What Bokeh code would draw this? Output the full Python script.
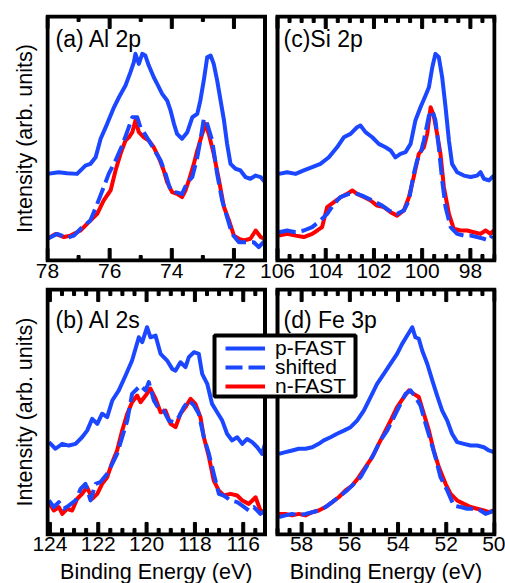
from bokeh.plotting import figure
from bokeh.models import (Range1d, LinearAxis, FixedTicker, Label, Legend, BoxAnnotation,
                          LegendItem, CustomJSTickFormatter, ColumnDataSource)
from bokeh.layouts import column
from bokeh.embed import file_html
from bokeh.resources import INLINE

# ---------------- data (binding energy in eV, intensity in arb. units) -------------
# (a) Al 2p
al2p_pfast_be = [78.00, 77.64, 77.37, 77.05, 76.78, 76.62, 76.45, 76.29, 76.08, 75.86, 75.70, 75.49,
                 75.33, 75.22, 75.17, 75.06, 74.95, 74.85, 74.74, 74.58, 74.47, 74.31, 74.15, 74.04,
                 73.93, 73.83, 73.67, 73.50, 73.34, 73.18, 73.08, 72.97, 72.86, 72.75, 72.65, 72.54,
                 72.43, 72.32, 72.22, 72.11, 71.95, 71.79, 71.63, 71.47, 71.30, 71.14, 71.00]
al2p_pfast_int = [35.5, 36.2, 35.8, 35.5, 38.9, 39.6, 42.3, 49.9, 56.0, 62.8, 66.9, 71.7,
                  77.2, 81.3, 84.7, 80.6, 84.7, 84.0, 79.9, 75.1, 72.4, 68.3, 65.6, 61.5,
                  56.0, 51.9, 49.9, 52.6, 58.7, 60.1, 65.6, 73.8, 83.3, 84.0, 80.6, 73.8,
                  65.6, 57.4, 47.8, 39.6, 37.6, 36.9, 34.2, 33.5, 34.8, 34.2, 32.1]
al2p_nfast_be = [78.00, 77.74, 77.47, 77.26, 76.94, 76.67, 76.40, 76.19, 75.97, 75.81, 75.65, 75.49,
                 75.38, 75.27, 75.17, 75.06, 74.90, 74.74, 74.58, 74.42, 74.26, 74.15, 73.99, 73.83,
                 73.67, 73.56, 73.45, 73.29, 73.18, 73.02, 72.91, 72.81, 72.65, 72.48, 72.32, 72.16,
                 72.00, 71.84, 71.68, 71.47, 71.30, 71.14, 71.00]
al2p_nfast_int = [8.9, 10.9, 9.6, 10.2, 12.3, 15.7, 19.1, 24.6, 28.7, 36.9, 43.7, 49.2,
                  50.5, 52.6, 57.4, 52.6, 50.5, 49.2, 46.4, 42.3, 36.9, 32.1, 28.0, 27.3,
                  26.0, 28.7, 32.8, 39.6, 45.1, 51.9, 56.0, 51.9, 43.7, 32.8, 21.9, 16.4,
                  10.2, 8.9, 8.2, 8.9, 12.3, 9.6, 8.9]
al2p_shift_be = [78.00, 77.69, 77.37, 77.15, 76.88, 76.62, 76.40, 76.19, 76.03, 75.81, 75.60, 75.44,
                 75.27, 75.11, 75.01, 74.90, 74.74, 74.52, 74.36, 74.20, 74.04, 73.88, 73.67, 73.50,
                 73.34, 73.18, 73.08, 72.97, 72.86, 72.70, 72.54, 72.38, 72.22, 72.06, 71.84, 71.57,
                 71.36, 71.20, 71.00]
al2p_shift_int = [8.9, 10.9, 9.3, 10.2, 13.7, 16.4, 23.2, 30.1, 35.5, 41.0, 47.1, 52.6,
                  58.7, 58.7, 54.6, 52.6, 49.2, 44.4, 41.0, 35.5, 28.7, 28.0, 27.3, 32.1,
                  34.2, 42.3, 49.2, 58.1, 56.0, 49.2, 35.5, 24.6, 17.8, 10.9, 7.5, 7.5,
                  7.5, 5.5, 8.2]

# (c) Si 2p
si2p_pfast_be = [105.94, 105.60, 105.25, 104.91, 104.56, 104.22, 103.87, 103.53, 103.25, 102.97,
                 102.70, 102.56, 102.35, 102.07, 101.80, 101.52, 101.31, 101.11, 100.90, 100.69,
                 100.48, 100.28, 100.07, 99.86, 99.72, 99.58, 99.45, 99.31, 99.17, 99.03,
                 98.89, 98.76, 98.55, 98.27, 97.99, 97.72, 97.58, 97.44, 97.23, 97.03]
si2p_pfast_int = [35.5, 36.2, 35.5, 36.9, 38.3, 39.6, 42.3, 46.4, 50.5, 51.9,
                  54.6, 55.3, 52.6, 50.5, 47.8, 46.4, 45.1, 42.3, 43.7, 44.4,
                  47.8, 57.4, 62.8, 67.6, 71.0, 79.2, 84.7, 83.3, 75.1, 62.8,
                  49.2, 39.6, 36.2, 34.8, 34.2, 34.8, 36.2, 33.5, 32.8, 34.8]
si2p_nfast_be = [105.94, 105.60, 105.25, 104.91, 104.56, 104.35, 104.15, 103.94, 103.66, 103.39,
                 103.11, 102.90, 102.70, 102.42, 102.14, 101.87, 101.59, 101.31, 101.04, 100.76,
                 100.55, 100.35, 100.14, 99.93, 99.79, 99.65, 99.52, 99.38, 99.24, 99.10,
                 98.89, 98.69, 98.41, 98.13, 97.86, 97.58, 97.37, 97.17, 97.03]
si2p_nfast_int = [10.2, 10.9, 10.2, 9.6, 10.9, 12.3, 13.7, 21.9, 23.9, 25.9,
                  27.3, 28.7, 27.3, 26.0, 24.6, 22.5, 21.9, 19.8, 18.4, 20.5,
                  25.9, 34.2, 43.7, 46.4, 51.9, 62.8, 59.4, 51.9, 43.7, 30.1,
                  19.1, 13.0, 12.3, 12.3, 11.6, 10.9, 12.3, 10.9, 12.3]
si2p_shift_be = [105.94, 105.60, 105.25, 104.91, 104.56, 104.22, 103.94, 103.66, 103.39, 103.04,
                 102.76, 102.49, 102.21, 101.94, 101.66, 101.38, 101.04, 100.76, 100.55, 100.35,
                 100.21, 100.07, 99.93, 99.72, 99.58, 99.45, 99.31, 99.17, 99.03, 98.82,
                 98.55, 98.27, 97.99, 97.72, 97.44, 97.23, 97.10]
si2p_shift_int = [11.6, 12.3, 11.6, 12.3, 13.7, 16.4, 19.1, 23.2, 26.0, 27.3,
                  27.6, 26.6, 25.3, 23.9, 22.5, 20.5, 19.1, 20.5, 24.6, 35.5,
                  41.0, 43.7, 49.2, 59.4, 61.5, 57.4, 46.4, 32.8, 21.9, 13.7,
                  10.9, 10.2, 10.2, 9.6, 8.9, 8.2, 10.2]

# (b) Al 2s
al2s_pfast_be = [124.04, 123.77, 123.49, 123.22, 122.94, 122.67, 122.46, 122.25, 122.04, 121.84,
                 121.63, 121.42, 121.15, 120.87, 120.60, 120.32, 120.18, 119.98, 119.84, 119.63,
                 119.42, 119.15, 118.94, 118.80, 118.60, 118.39, 118.25, 118.04, 117.84, 117.70,
                 117.49, 117.29, 117.08, 116.87, 116.67, 116.46, 116.25, 116.04, 115.84, 115.63,
                 115.42, 115.22, 115.10]
al2s_pfast_int = [37.7, 35.0, 37.0, 36.3, 37.0, 39.7, 42.4, 47.2, 45.2, 49.3,
                  47.9, 54.7, 58.8, 64.9, 71.0, 80.5, 78.5, 84.6, 80.5, 81.2,
                  73.7, 71.0, 67.6, 66.9, 70.3, 68.3, 72.4, 74.4, 73.7, 65.6,
                  61.5, 53.3, 49.9, 46.5, 41.1, 38.4, 39.7, 37.0, 39.0, 37.7,
                  35.6, 32.9, 37.0]
al2s_nfast_be = [124.04, 123.84, 123.63, 123.49, 123.29, 123.08, 122.87, 122.67, 122.46, 122.25,
                 122.04, 121.84, 121.63, 121.42, 121.22, 121.01, 120.80, 120.60, 120.39, 120.25,
                 120.04, 119.84, 119.63, 119.42, 119.22, 119.01, 118.80, 118.60, 118.39, 118.18,
                 117.98, 117.77, 117.63, 117.42, 117.22, 117.01, 116.80, 116.53, 116.25, 116.04,
                 115.77, 115.49, 115.29, 115.10]
al2s_nfast_int = [13.2, 9.8, 11.2, 8.4, 10.5, 9.8, 14.6, 16.6, 19.3, 14.6,
                  16.6, 20.7, 23.4, 29.5, 34.3, 42.4, 49.3, 54.0, 56.7, 54.0,
                  56.7, 59.5, 55.4, 49.9, 50.6, 45.2, 43.8, 49.3, 52.0, 55.4,
                  53.3, 47.9, 39.7, 31.6, 22.0, 17.9, 15.9, 16.6, 15.9, 13.9,
                  12.5, 15.2, 9.8, 9.1]
al2s_shift_be = [124.04, 123.84, 123.63, 123.42, 123.22, 122.94, 122.73, 122.53, 122.32, 122.11,
                 121.91, 121.63, 121.42, 121.22, 121.01, 120.80, 120.60, 120.46, 120.25, 120.04,
                 119.91, 119.70, 119.49, 119.29, 119.08, 118.87, 118.67, 118.46, 118.25, 118.04,
                 117.84, 117.63, 117.42, 117.22, 117.01, 116.80, 116.53, 116.25, 116.04, 115.77,
                 115.56, 115.29, 115.10]
al2s_shift_int = [13.9, 11.2, 13.2, 10.5, 11.8, 13.9, 18.6, 20.7, 13.9, 20.7,
                  21.4, 24.8, 28.8, 32.9, 39.7, 46.5, 57.4, 58.8, 60.8, 58.8,
                  62.2, 54.7, 51.3, 50.6, 46.5, 45.9, 47.9, 52.0, 54.7, 52.7,
                  49.3, 39.7, 32.9, 24.8, 16.6, 15.9, 13.9, 13.2, 11.8, 9.8,
                  11.2, 8.4, 9.8]

# (d) Fe 3p
fe3p_pfast_be = [58.94, 58.67, 58.39, 58.12, 57.84, 57.56, 57.29, 57.08, 56.80, 56.53,
                 56.25, 55.97, 55.70, 55.42, 55.14, 54.87, 54.59, 54.31, 54.04, 53.83,
                 53.62, 53.41, 53.28, 53.14, 53.00, 52.79, 52.58, 52.38, 52.17, 51.96,
                 51.76, 51.55, 51.27, 50.99, 50.72, 50.44, 50.23, 50.03]
fe3p_pfast_int = [32.9, 33.6, 34.3, 35.0, 35.0, 35.6, 37.0, 38.4, 39.7, 41.1,
                  42.4, 43.8, 46.5, 50.6, 56.1, 61.5, 65.6, 69.7, 73.7, 77.8,
                  81.2, 84.6, 80.5, 79.9, 75.1, 69.7, 62.9, 56.7, 50.6, 46.5,
                  41.1, 37.7, 37.0, 36.3, 36.3, 35.6, 34.3, 33.6]
fe3p_nfast_be = [58.94, 58.67, 58.39, 58.12, 57.84, 57.56, 57.29, 57.01, 56.73, 56.46,
                 56.18, 55.90, 55.63, 55.35, 55.07, 54.80, 54.59, 54.31, 54.04, 53.76,
                 53.55, 53.35, 53.14, 52.93, 52.72, 52.52, 52.31, 52.03, 51.82, 51.55,
                 51.27, 50.99, 50.72, 50.44, 50.23, 50.03]
fe3p_nfast_int = [8.4, 8.4, 7.8, 8.4, 7.8, 9.1, 9.8, 11.2, 13.2, 15.2,
                  18.0, 20.0, 23.4, 27.5, 31.6, 37.0, 41.1, 46.5, 52.0, 56.1,
                  58.8, 57.4, 56.1, 49.3, 42.4, 34.3, 27.5, 20.7, 16.6, 13.9,
                  12.5, 11.2, 10.5, 9.8, 9.1, 9.8]
fe3p_shift_be = [58.94, 58.67, 58.39, 58.12, 57.84, 57.56, 57.29, 57.01, 56.73, 56.39,
                 56.11, 55.83, 55.56, 55.28, 55.00, 54.73, 54.45, 54.17, 53.90, 53.69,
                 53.48, 53.28, 53.07, 52.86, 52.65, 52.45, 52.24, 51.96, 51.69, 51.41,
                 51.13, 50.86, 50.58, 50.37, 50.17, 50.03]
fe3p_shift_int = [7.1, 7.8, 8.4, 7.8, 8.4, 9.1, 9.8, 11.2, 13.2, 15.9,
                  18.0, 20.7, 23.4, 28.2, 33.0, 38.4, 42.4, 47.9, 53.3, 57.4,
                  58.8, 56.1, 52.7, 45.2, 38.4, 31.6, 23.4, 18.0, 11.8, 11.2,
                  10.5, 10.5, 9.8, 8.4, 9.1, 9.8]

# axis extents and tick labels
al2p_range = (78.0, 71.0)
si2p_range = (106.0, 97.0)
al2s_range = (124.1, 115.1)
fe3p_range = (59.0, 50.0)
al2p_ticks = [78, 76, 74, 72]
si2p_ticks = [106, 104, 102, 100, 98]
al2s_ticks = [124, 122, 120, 118, 116]
fe3p_ticks = [58, 56, 54, 52, 50]
series_labels = ["p-FAST", "shifted", "n-FAST"]
panel_titles = ["(a) Al 2p", "(c)Si 2p", "(b) Al 2s", "(d) Fe 3p"]
y_title = "Intensity (arb. units)"
x_title = "Binding Energy (eV)"

# ---------------- style / layout ----------------
FONT = "Liberation Sans"
BLUE = "#1a47ff"
RED = "#ff0000"
LW = 4
DASH = "17 6"
FRAME_L, FRAME_R = 45, 496
SLOT_L = (47.0, 264.5)
SLOT_R = (277.0, 494.0)
PX_PER_Y = 2.44          # vertical pixels per intensity unit (0..100 between borders)


def slot_map(erange, slot):
    e0, e1 = erange
    p0, p1 = slot
    return e0, p0, (p1 - p0) / (e0 - e1)


def range_for(erange, slot):
    e0, p0, k = slot_map(erange, slot)
    return Range1d(start=e0 + (p0 - FRAME_L) / k, end=e0 - (FRAME_R - p0) / k)


def to_default(E, erange, slot, def_range):
    e0, p0, k = slot_map(erange, slot)
    px = p0 + (e0 - E) * k
    d0, dp0, dk = slot_map(def_range, SLOT_L)
    return round(d0 - (px - dp0) / dk, 6)


def minor_list(erange, step, majors):
    e0, e1 = erange
    out = []
    v = float(int(e0))
    while v >= e1 - 1e-9:
        if all(abs(v - m) > 1e-9 for m in majors):
            out.append(v)
        v -= step
    return out


def frame_with_ticks(p, side, slot, rname, major_len, minor_len):
    """Panel border plus inward tick marks, drawn by a single quad renderer."""
    e0, e1 = side["range"]
    _, _, k = slot_map(side["range"], slot)
    half = 1.5 / k
    lengths = {float(t): major_len for t in side["ticks"]}
    for t in minor_list(side["range"], side["minor"], side["ticks"]):
        lengths[t] = minor_len
    lefts, rights, bots, tops = [e0], [e1], [0.0], [100.0]
    fills, lines, widths = [None], ["black"], [4]
    for t, L in lengths.items():
        Ly = L / PX_PER_Y
        for b, tp in ((0.0, Ly), (100.0 - Ly, 100.0)):
            lefts.append(t + half)
            rights.append(t - half)
            bots.append(b)
            tops.append(tp)
            fills.append("black")
            lines.append("black")
            widths.append(1)
    src = ColumnDataSource(dict(left=lefts, right=rights, bottom=bots, top=tops,
                                fill=fills, line=lines, width=widths))
    p.quad(left="left", right="right", bottom="bottom", top="top", source=src,
           x_range_name=rname, fill_color="fill", line_color="line",
           line_width="width", line_join="miter")


def build_row(height, min_top, min_bottom, left, right, title_y, label_standoff, legend=False):
    p = figure(width=505, height=height, output_backend="svg", toolbar_location=None,
               x_axis_type=None, y_axis_type=None,
               x_range=range_for(left["range"], SLOT_L),
               y_range=Range1d(-2 / PX_PER_Y, 100 + 2 / PX_PER_Y),
               min_border_left=45, min_border_right=9,
               min_border_top=min_top, min_border_bottom=min_bottom)
    p.extra_x_ranges = {"r": range_for(right["range"], SLOT_R)}
    p.outline_line_color = None
    p.background_fill_color = "white"
    p.border_fill_color = "white"

    rends = {}
    for side, rname, slot in ((left, "default", SLOT_L), (right, "r", SLOT_R)):
        rs = []
        rs.append(p.line(side["p_be"], side["p_int"], x_range_name=rname, line_color=BLUE,
                         line_width=LW, line_join="round"))
        rs.append(p.line(side["n_be"], side["n_int"], x_range_name=rname, line_color=RED,
                         line_width=LW, line_join="round"))
        rs.append(p.line(side["s_be"], side["s_int"], x_range_name=rname, line_color=BLUE,
                         line_width=LW, line_dash=DASH, line_join="round"))
        frame_with_ticks(p, side, slot, rname, 12, side["minor_len"])
        rends[rname] = rs

    # tick labels (one axis carrying both panels' labels)
    defr = left["range"]
    major_pos, major_lab = [], []
    for side, slot in ((left, SLOT_L), (right, SLOT_R)):
        for t in side["ticks"]:
            major_pos.append(to_default(t, side["range"], slot, defr))
            major_lab.append(str(t))
    fmt = CustomJSTickFormatter(args=dict(pos=major_pos, lab=major_lab), code="""
        let best = 0, bd = Infinity;
        for (let i = 0; i < pos.length; i++) {
            const d = Math.abs(pos[i] - tick);
            if (d < bd) { bd = d; best = i; }
        }
        return lab[best];
    """)
    ax = LinearAxis(ticker=FixedTicker(ticks=major_pos, minor_ticks=[]), formatter=fmt)
    ax.axis_line_color = None
    ax.major_tick_in = 0
    ax.major_tick_out = 0
    ax.minor_tick_in = 0
    ax.minor_tick_out = 0
    ax.major_label_standoff = label_standoff
    ax.major_label_text_font = FONT
    ax.major_label_text_font_size = "21px"
    ax.major_label_text_color = "black"
    p.add_layout(ax, "below")

    yax = LinearAxis(ticker=FixedTicker(ticks=[]), axis_label=y_title)
    yax.axis_line_color = None
    yax.major_tick_out = 0
    yax.major_tick_in = 0
    yax.minor_tick_out = 0
    yax.major_label_standoff = 0
    yax.axis_label_standoff = 9
    yax.axis_label_text_font = FONT
    yax.axis_label_text_font_size = "21.5px"
    yax.axis_label_text_font_style = "normal"
    yax.axis_label_text_color = "black"
    p.add_layout(yax, "left")

    for side, xoff in ((left, 10), (right, 238)):
        p.add_layout(Label(x=xoff, y=title_y, x_units="screen", y_units="screen",
                           text=side["title"], text_font=FONT, text_font_size="23px",
                           text_baseline="alphabetic", text_color="black"))

    if legend:
        r = rends["default"]
        box = BoxAnnotation(left=169, right=310, bottom=140, top=201,
                            left_units="screen", right_units="screen",
                            bottom_units="screen", top_units="screen",
                            fill_color="white", fill_alpha=1.0,
                            line_color="black", line_alpha=1.0, line_width=4)
        p.add_layout(box)
        row_renderers = [r[0], r[2], r[1]]
        row_centres = [188, 169, 150]           # legend rows, px above frame bottom
        for lab, rr, cy in zip(series_labels, row_renderers, row_centres):
            lg = Legend(items=[LegendItem(label=lab, renderers=[rr])],
                        location=(180, cy - 12))
            lg.border_line_color = None
            lg.background_fill_alpha = 0.0
            lg.label_text_font = FONT
            lg.label_text_font_size = "21px"
            lg.label_text_color = "black"
            lg.glyph_width = 40
            lg.glyph_height = 24
            lg.label_height = 24
            lg.label_standoff = 10
            lg.padding = 0
            lg.spacing = 0
            lg.margin = 0
            p.add_layout(lg)
    return p


panel_a = dict(range=al2p_range, ticks=al2p_ticks, minor=1.0, minor_len=5, title=panel_titles[0],
               p_be=al2p_pfast_be, p_int=al2p_pfast_int, n_be=al2p_nfast_be, n_int=al2p_nfast_int,
               s_be=al2p_shift_be, s_int=al2p_shift_int)
panel_c = dict(range=si2p_range, ticks=si2p_ticks, minor=0.5, minor_len=6, title=panel_titles[1],
               p_be=si2p_pfast_be, p_int=si2p_pfast_int, n_be=si2p_nfast_be, n_int=si2p_nfast_int,
               s_be=si2p_shift_be, s_int=si2p_shift_int)
panel_b = dict(range=al2s_range, ticks=al2s_ticks, minor=0.5, minor_len=6, title=panel_titles[2],
               p_be=al2s_pfast_be, p_int=al2s_pfast_int, n_be=al2s_nfast_be, n_int=al2s_nfast_int,
               s_be=al2s_shift_be, s_int=al2s_shift_int)
panel_d = dict(range=fe3p_range, ticks=fe3p_ticks, minor=0.5, minor_len=6, title=panel_titles[3],
               p_be=fe3p_pfast_be, p_int=fe3p_pfast_int, n_be=fe3p_nfast_be, n_int=fe3p_nfast_int,
               s_be=fe3p_shift_be, s_int=fe3p_shift_int)

top = build_row(287, 14, 25, panel_a, panel_c, title_y=224, label_standoff=1)
bottom = build_row(273, 0, 24, panel_b, panel_d, title_y=217, label_standoff=0, legend=True)

# strip holding the two x-axis titles under the bottom panels
strip = figure(width=505, height=23, output_backend="svg", toolbar_location=None,
               x_axis_type=None, y_axis_type=None,
               x_range=range_for(al2s_range, SLOT_L), y_range=Range1d(0, 23),
               min_border_left=45, min_border_right=9, min_border_top=0, min_border_bottom=0)
strip.extra_x_ranges = {"r": range_for(fe3p_range, SLOT_R)}
strip.outline_line_color = None
strip.background_fill_color = "white"
strip.border_fill_color = "white"
for rng, rname in ((al2s_range, "default"), (fe3p_range, "r")):
    strip.add_layout(Label(x=(rng[0] + rng[1]) / 2, y=12, x_units="data", y_units="screen",
                           x_range_name=rname, text=x_title, text_font=FONT,
                           text_font_size="21.5px", text_align="center",
                           text_baseline="alphabetic", text_color="black"))

layout = column(top, bottom, strip, spacing=0)
open("out.html", "w").write(file_html(layout, INLINE))
